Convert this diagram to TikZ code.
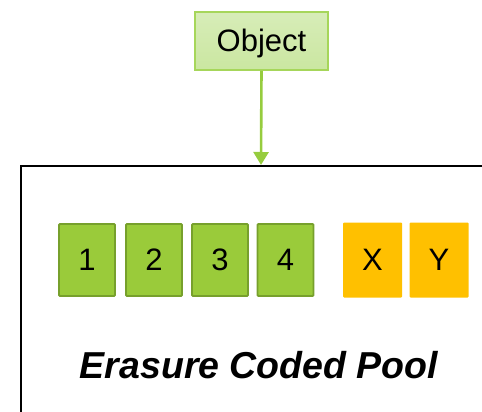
\documentclass[tikz,border=0pt]{standalone}
\usepackage{fontspec}
\setmainfont{Liberation Sans}
\usetikzlibrary{arrows.meta}
\definecolor{chunkgreen}{HTML}{9ACB3A}
\definecolor{chunkedge}{HTML}{77A02C}
\definecolor{parity}{HTML}{FFC000}
\definecolor{objfill}{HTML}{CDE8A6}
\definecolor{objedge}{HTML}{A6D65A}
\definecolor{flow}{HTML}{96CC3E}
\tikzset{
  datachunk/.style={draw=chunkedge, fill=chunkgreen, line width=1.8pt, rounded corners=1pt,
    minimum width=56pt, minimum height=72pt, inner sep=0pt, font=\fontsize{31}{31}\selectfont},
  paritychunk/.style={fill=parity, rounded corners=1pt,
    minimum width=59pt, minimum height=75pt, inner sep=0pt, font=\fontsize{31}{31}\selectfont},
  objbox/.style={draw=objedge, top color=objfill!80!white, bottom color=objfill!95!chunkgreen, line width=1.8pt,
    minimum width=133pt, minimum height=58pt, inner sep=0pt, text height=22pt, text depth=0pt,
    font=\fontsize{31}{31}\selectfont},
}
\begin{document}
\begin{tikzpicture}[x=1pt, y=-1pt]
  \useasboundingbox (0,0) rectangle (482,412);
  % pool outline (runs off the right and bottom edges)
  \draw[line width=2pt] (21,500) -- (21,165.5) -- (600,165.5);
  \coordinate (pooltop) at (261,165);
  % object to be stored
  \node[objbox] (obj) at (261.5,41) {Object};
  \draw[flow, line width=2.6pt, -{Triangle[width=15pt,length=13pt]}] (obj.south) -- (pooltop);
  % data chunks
  \node[datachunk] (c1) at (87,260) {1};
  \node[datachunk] (c2) at (154,260) {2};
  \node[datachunk] (c3) at (220,260) {3};
  \node[datachunk] (c4) at (285.5,260) {4};
  % parity chunks
  \node[paritychunk] (px) at (372.5,260) {X};
  \node[paritychunk] (py) at (439,260) {Y};
  % pool label
  \node[font=\fontsize{37.5}{37.5}\selectfont\bfseries\itshape] (label) at (259,365) {Erasure Coded Pool};
\end{tikzpicture}
\end{document}
